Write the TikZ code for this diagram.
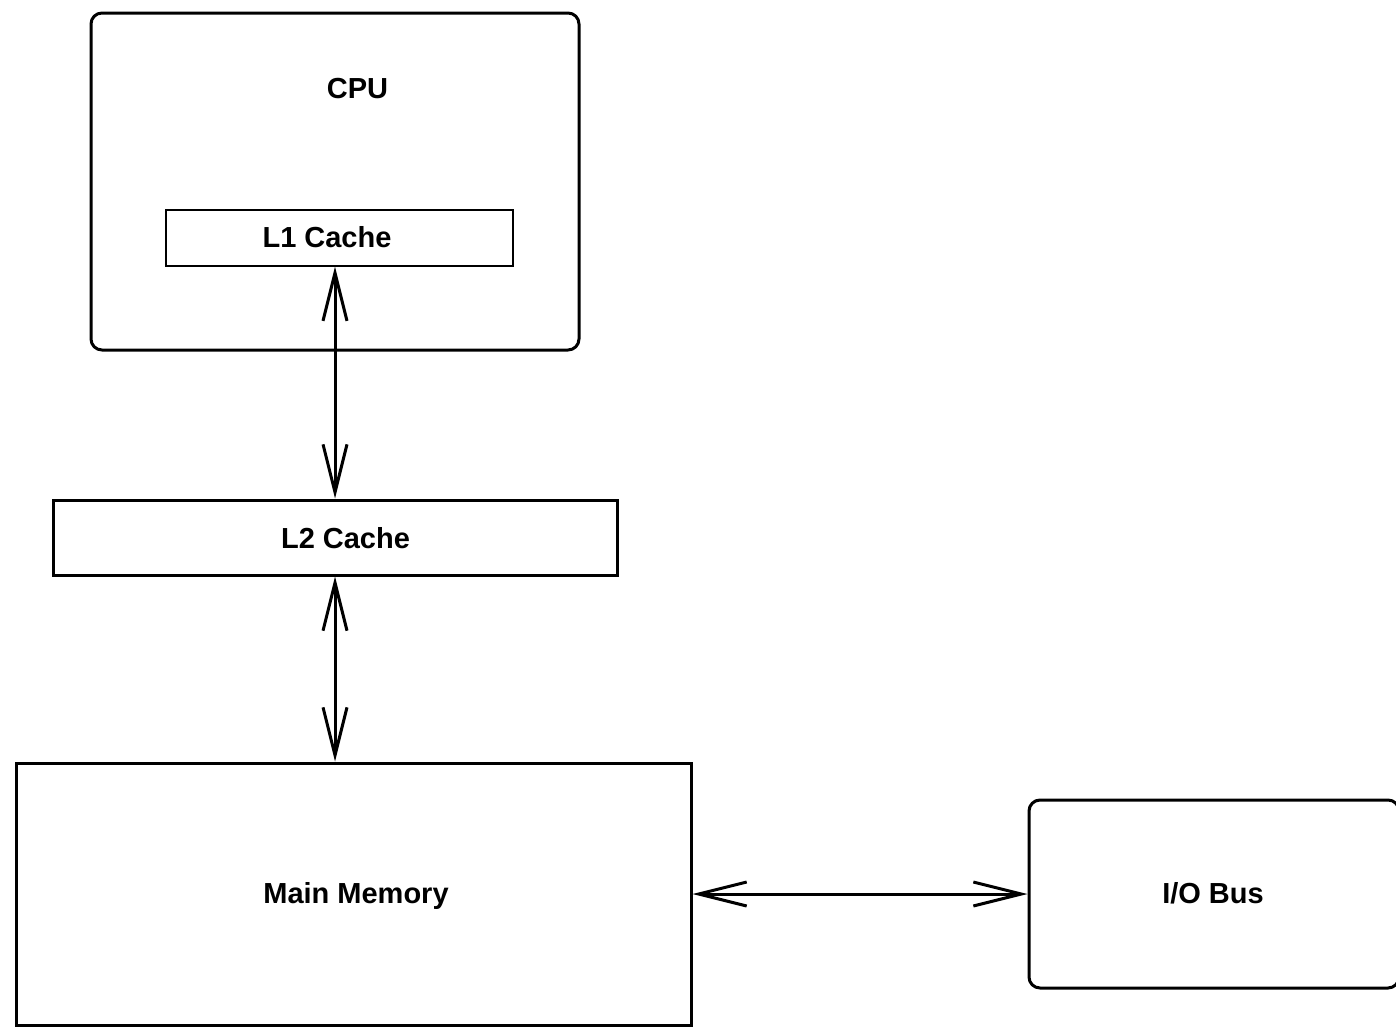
\documentclass[tikz,border=0pt]{standalone}
\usepackage{fontspec}
\setmainfont{Liberation Sans}
\usetikzlibrary{arrows.meta,calc}
\begin{document}
\begin{tikzpicture}[x=1pt,y=-1pt,
  box/.style={draw,line width=3pt,rectangle,inner sep=0pt},
  roundbox/.style={box,rounded corners=11pt},
  thinbox/.style={draw,line width=1.4pt,rectangle,inner sep=0pt},
  lbl/.style={font=\fontsize{29}{34}\selectfont\bfseries,inner sep=0pt,anchor=base},
  biarrow/.style={line width=3pt,
    {Straight Barb[length=48pt,width=24pt,line width=3pt]}-{Straight Barb[length=48pt,width=24pt,line width=3pt]}}]
\useasboundingbox (0,0) rectangle (1396,1031);

% blocks of the memory hierarchy
\node[roundbox,minimum width=488pt,minimum height=337pt] (cpu) at (335,181.5) {};
\node[thinbox,minimum width=347pt,minimum height=56pt] (l1) at (339.5,238) {};
\node[box,minimum width=564pt,minimum height=75pt] (l2) at (335,537.5) {};
\node[box,minimum width=675pt,minimum height=262pt] (mem) at (353.5,894) {};
\node[roundbox,minimum width=370pt,minimum height=188pt] (io) at (1214,894) {};

% labels
\node[lbl] (cpuL) at (357.5,98) {CPU};
\node[lbl] (l1L) at (327,247) {L1 Cache};
\node[lbl] (l2L) at (345.5,548) {L2 Cache};
\node[lbl] (memL) at (356,903) {Main Memory};
\node[lbl] (ioL) at (1213,903) {I/O Bus};

% bidirectional links
\draw[biarrow] (l2.north |- l1.south) -- (l2.north);
\draw[biarrow] (l2.south) -- (l2.south |- mem.north);
\draw[biarrow] (mem.east) -- (io.west);
\end{tikzpicture}
\end{document}
